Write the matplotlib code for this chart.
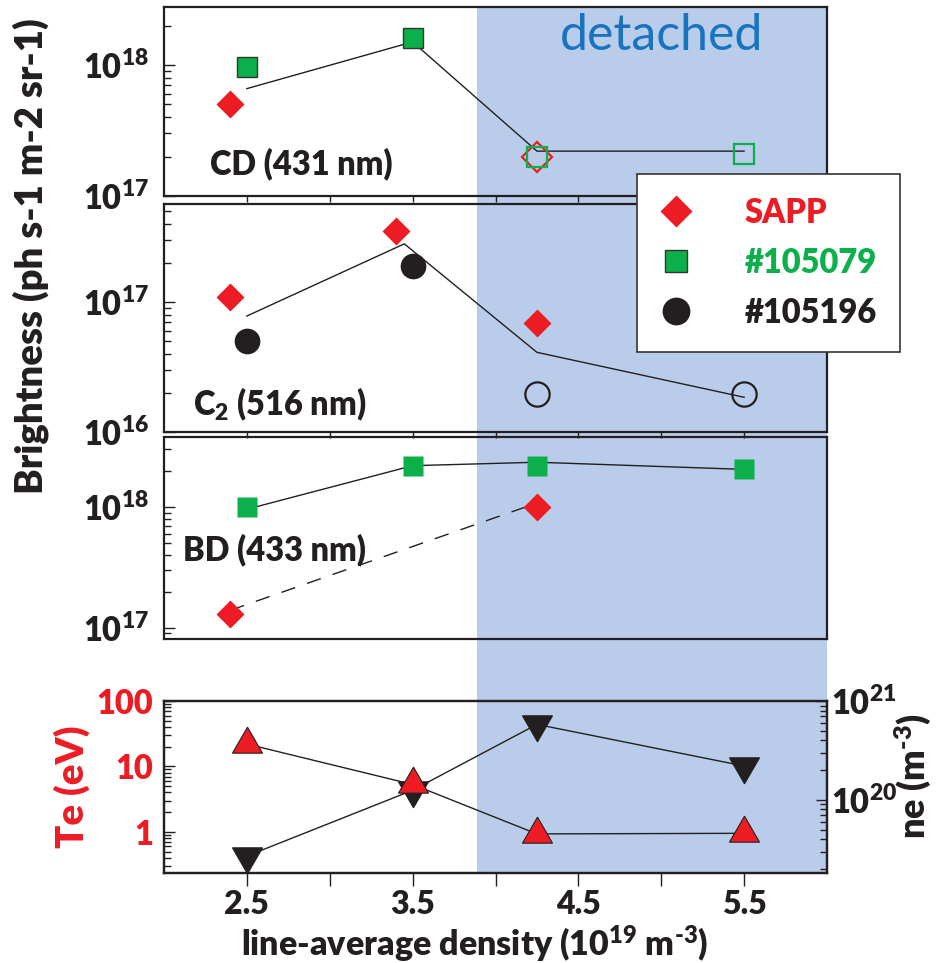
import matplotlib
matplotlib.use("Agg")
import matplotlib.pyplot as plt
import matplotlib.transforms as mtransforms
from matplotlib.patches import Rectangle
from matplotlib.lines import Line2D
from matplotlib.ticker import LogLocator, NullFormatter, FixedLocator
import numpy as np

WEIGHT = 'heavy'
plt.rcParams['font.family'] = ['Lato', 'DejaVu Sans']
plt.rcParams['font.weight'] = WEIGHT
plt.rcParams['mathtext.fontset'] = 'custom'
plt.rcParams['mathtext.rm'] = 'Lato:' + WEIGHT
plt.rcParams['mathtext.it'] = 'Lato:' + WEIGHT
plt.rcParams['mathtext.bf'] = 'Lato:' + WEIGHT

RED = '#ED1C24'
GREEN = '#0BB04B'
BLACK = '#231F20'
SHADE = '#B9CDEA'
BLUE_TXT = '#1A73BE'

# ---- data ----
# CD (431 nm)
x_cd_sapp = [2.4]
cd_sapp = [5.0e17]
x_cd_sapp_open = [4.25]
cd_sapp_open = [2.0e17]
x_cd_079 = [2.5, 3.5]
cd_079 = [9.7e17, 1.6e18]
x_cd_079_open = [4.25, 5.5]
cd_079_open = [2.0e17, 2.1e17]
x_cd_model = [2.5, 3.5, 4.25, 5.5]
cd_model = [6.6e17, 1.5e18, 2.2e17, 2.2e17]

# C2 (516 nm)
x_c2_sapp = [2.4, 3.4, 4.25]
c2_sapp = [1.1e17, 3.5e17, 6.9e16]
x_c2_196 = [2.5, 3.5]
c2_196 = [5.0e16, 1.9e17]
x_c2_196_open = [4.25, 5.5]
c2_196_open = [1.95e16, 1.95e16]
x_c2_model = [2.5, 3.45, 4.25, 5.5]
c2_model = [7.8e16, 2.8e17, 4.1e16, 1.85e16]

# BD (433 nm)
x_bd_079 = [2.5, 3.5, 4.25, 5.5]
bd_079 = [1.0e18, 2.2e18, 2.2e18, 2.05e18]
bd_079_model = [9.6e17, 2.2e18, 2.35e18, 2.05e18]
x_bd_sapp = [2.4, 4.25]
bd_sapp = [1.3e17, 1.0e18]
bd_sapp_model = [1.4e17, 1.08e18]

# probe Te / ne
x_probe = [2.5, 3.5, 4.25, 5.5]
te = [22, 5.3, 0.93, 0.95]
ne = [2.7e19, 1.25e20, 5.8e20, 2.2e20]

detached_start = 3.89
xticks_major = [2.5, 3.5, 4.5, 5.5]
xticks_minor = [3.0, 4.0, 5.0]

TICK_FS = 23.5
PANEL_FS = 23.5

W, H = 936, 963
fig = plt.figure(figsize=(W / 100, H / 100), dpi=100)


def box(top, bottom, left=164, right=827):
    return [left / W, 1 - bottom / H, (right - left) / W, (bottom - top) / H]


ax1 = fig.add_axes(box(7, 196))
ax2 = fig.add_axes(box(204, 432))
ax3 = fig.add_axes(box(437, 639))
ax4 = fig.add_axes(box(701, 873))
ax4b = ax4.twinx()

for ax in (ax1, ax2, ax3, ax4, ax4b):
    ax.set_facecolor('none')
    ax.set_xlim(2.0, 6.0)
    for sp in ax.spines.values():
        sp.set_linewidth(1.6)
        sp.set_color(BLACK)

# shaded "detached" region spanning all panels
trans = mtransforms.blended_transform_factory(ax4.transData, fig.transFigure)
shade = Rectangle((detached_start, 1 - 873 / H), 6.0 - detached_start, (873 - 7) / H,
                  transform=trans, facecolor=SHADE, edgecolor='none', zorder=-1)
fig.patches.append(shade)

line_kw = dict(color=BLACK, lw=1.0, zorder=2)

# ---- panel 1: CD ----
ax1.plot(x_cd_model, cd_model, **line_kw)
ax1.plot(x_cd_sapp, cd_sapp, 'D', ms=14, mfc=RED, mec='none', zorder=3)
ax1.plot(x_cd_079, cd_079, 's', ms=15, mfc=GREEN, mec='#333333', mew=1.0, zorder=3)
ax1.plot(x_cd_sapp_open, cd_sapp_open, 'D', ms=15, mfc='none', mec=RED, mew=1.6, zorder=3)
ax1.plot(x_cd_079_open, cd_079_open, 's', ms=15, mfc='none', mec=GREEN, mew=1.6, zorder=4)
ax1.set_ylim(1e17, 2.77e18)
ax1.text(0.069, 0.17, 'CD (431 nm)', transform=ax1.transAxes, fontsize=PANEL_FS,
         color=BLACK, ha='left', va='center')
ax1.text(0.751, 0.772, 'detached', transform=ax1.transAxes, fontsize=36,
         fontweight='normal', color=BLUE_TXT, ha='center', va='baseline')

# ---- panel 2: C2 ----
ax2.plot(x_c2_model, c2_model, **line_kw)
ax2.plot(x_c2_sapp, c2_sapp, 'D', ms=14, mfc=RED, mec='none', zorder=3)
ax2.plot(x_c2_196, c2_196, 'o', ms=18.5, mfc=BLACK, mec='none', zorder=3)
ax2.plot(x_c2_196_open, c2_196_open, 'o', ms=17.5, mfc='none', mec=BLACK, mew=1.6, zorder=3)
ax2.set_ylim(1e16, 5.67e17)
ax2.text(0.044, 0.123, 'C$_2$ (516 nm)', transform=ax2.transAxes, fontsize=PANEL_FS,
         color=BLACK, ha='left', va='center')

# ---- panel 3: BD ----
ax3.plot(x_bd_079, bd_079_model, **line_kw)
ax3.plot(x_bd_sapp, bd_sapp_model, color=BLACK, lw=1.0, dashes=(10.5, 9), zorder=2)
ax3.plot(x_bd_079, bd_079, 's', ms=15, mfc=GREEN, mec='none', zorder=3)
ax3.plot(x_bd_sapp, bd_sapp, 'D', ms=14, mfc=RED, mec='none', zorder=3)
ax3.set_ylim(8.1e16, 3.8e18)
ax3.text(0.029, 0.44, 'BD (433 nm)', transform=ax3.transAxes, fontsize=PANEL_FS,
         color=BLACK, ha='left', va='center')

for ax, ticks, labels in ((ax1, [1e17, 1e18], [r'$10^{17}$', r'$10^{18}$']),
                          (ax2, [1e16, 1e17], [r'$10^{16}$', r'$10^{17}$']),
                          (ax3, [1e17, 1e18], [r'$10^{17}$', r'$10^{18}$'])):
    ax.set_yscale('log')
    ax.set_yticks(ticks, labels=labels)
    ax.yaxis.set_minor_locator(LogLocator(base=10, subs=np.arange(2, 10)))
    ax.yaxis.set_minor_formatter(NullFormatter())
    ax.tick_params(axis='y', which='major', direction='in', length=8, width=1.0,
                   labelsize=TICK_FS, pad=11, colors=BLACK, right=False)
    ax.tick_params(axis='y', which='minor', direction='in', length=5, width=1.0,
                   colors=BLACK, right=False)
    ax.set_xticks(xticks_major + xticks_minor)
    ax.set_xticks([], minor=True)
    ax.tick_params(axis='x', which='major', direction='out', length=4, width=1.0,
                   labelbottom=False, colors=BLACK)

ax3.tick_params(axis='x', which='major', length=0)

# ---- panel 4: Te / ne ----
ax4.set_zorder(ax4b.get_zorder() + 1)
ax4b.plot(x_probe, ne, color=BLACK, lw=1.0, zorder=2)
ax4b.plot(x_probe, ne, linestyle='none', marker=(3, 0, 180), ms=25, mfc=BLACK,
          mec=BLACK, mew=0.8, zorder=3)
ax4.plot(x_probe, te, color=BLACK, lw=1.0, zorder=2)
ax4.plot(x_probe, te, linestyle='none', marker=(3, 0, 0), ms=25, mfc=RED,
         mec=BLACK, mew=0.8, zorder=3)

ax4.set_yscale('log')
ax4.set_ylim(0.235, 100)
ax4.set_yticks([1, 10, 100], labels=['1', '10', '100'])
ax4.yaxis.set_minor_locator(LogLocator(base=10, subs=np.arange(2, 10)))
ax4.yaxis.set_minor_formatter(NullFormatter())
ax4.tick_params(axis='y', which='major', direction='in', length=8, width=1.0,
                labelsize=TICK_FS, pad=8, labelcolor=RED, color=BLACK)
ax4.tick_params(axis='y', which='minor', direction='in', length=5, width=1.0, color=BLACK)

ax4b.set_yscale('log')
ax4b.set_ylim(1.82e19, 1e21)
ax4b.set_yticks([1e20, 1e21], labels=[r'$10^{20}$', r'$10^{21}$'])
ax4b.yaxis.set_minor_locator(LogLocator(base=10, subs=np.arange(2, 10)))
ax4b.yaxis.set_minor_formatter(NullFormatter())
ax4b.tick_params(axis='y', which='major', direction='in', length=8, width=1.0,
                 labelsize=TICK_FS, pad=3, colors=BLACK)
ax4b.tick_params(axis='y', which='minor', direction='in', length=5, width=1.0, color=BLACK)

ax4.set_xticks(xticks_major, labels=['2.5', '3.5', '4.5', '5.5'])
ax4.xaxis.set_minor_locator(FixedLocator(xticks_minor))
ax4.tick_params(axis='x', which='both', direction='out', length=9, width=1.0,
                labelsize=23, pad=3, colors=BLACK)

# ---- axis labels ----
fig.text(31 / W, 1 - 256 / H, 'Brightness (ph s-1 m-2 sr-1)', rotation=90,
         fontsize=27.5, color=BLACK, ha='center', va='center')
fig.text(72 / W, 1 - 787 / H, 'Te (eV)', rotation=90, fontsize=27.5, color=RED,
         ha='center', va='center')
fig.text(913 / W, 1 - 776 / H, r'ne (m$^{\text{-3}}$)', rotation=90, fontsize=26,
         color=BLACK, ha='center', va='center')
fig.text(475 / W, 1 - 944 / H, r'line-average density (10$^{19}$ m$^{\text{-3}}$)',
         fontsize=24.5, color=BLACK, ha='center', va='center')

# ---- legend ----
handles = [
    Line2D([], [], linestyle='none', marker='D', ms=16, mfc=RED, mec='none'),
    Line2D([], [], linestyle='none', marker='s', ms=16, mfc=GREEN, mec='#333333', mew=1.0),
    Line2D([], [], linestyle='none', marker='o', ms=20, mfc=BLACK, mec='none'),
]
leg = fig.legend(handles, ['SAPP', '#105079', '#105196'], loc='upper left',
                 bbox_to_anchor=(637 / W, 1 - 174 / H), borderaxespad=0,
                 prop=dict(size=23.5, weight=WEIGHT),
                 labelcolor=[RED, GREEN, BLACK], frameon=True, fancybox=False,
                 framealpha=1, edgecolor='#333333', borderpad=0.7,
                 handlelength=1.0, handletextpad=1.6, labelspacing=0.55)
leg.get_frame().set_linewidth(1.2)

fig.savefig('out.png', dpi=100)
